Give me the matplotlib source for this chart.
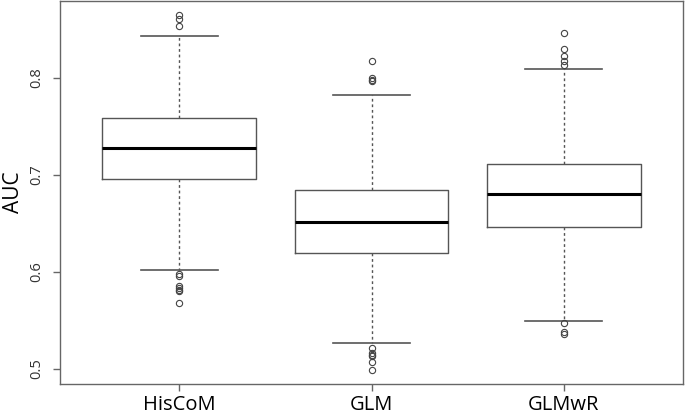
import matplotlib
matplotlib.use("Agg")
import matplotlib.pyplot as plt

methods = ["HisCoM", "GLM", "GLMwR"]
q1 = [0.6956, 0.6192, 0.6463]
median = [0.7271, 0.6512, 0.6800]
q3 = [0.7585, 0.6845, 0.7110]
whisker_low = [0.6020, 0.5263, 0.5497]
whisker_high = [0.8430, 0.7826, 0.8087]
outliers_hiscom = [0.8645, 0.8600, 0.8530, 0.5980, 0.5960, 0.5850, 0.5830, 0.5810, 0.5800, 0.5680]
outliers_glm = [0.8176, 0.8000, 0.7980, 0.7970, 0.5218, 0.5160, 0.5140, 0.5130, 0.5070, 0.4990]
outliers_glmwr = [0.8465, 0.8300, 0.8220, 0.8170, 0.8128, 0.5470, 0.5380, 0.5360]
yticks = [0.5, 0.6, 0.7, 0.8]

plt.rcParams['font.family'] = ['Open Sans', 'DejaVu Sans']

fig = plt.figure(figsize=(6.85, 4.18), dpi=100)
ax = fig.add_axes([60/685, 34/418, 623/685, 383/418])

fliers = [outliers_hiscom, outliers_glm, outliers_glmwr]
stats = []
for i, m in enumerate(methods):
    stats.append(dict(label=m, med=median[i], q1=q1[i], q3=q3[i],
                      whislo=whisker_low[i], whishi=whisker_high[i], fliers=fliers[i]))

line_col = "#555555"
ax.bxp(stats, positions=[1, 2, 3], widths=0.8, showfliers=True,
       boxprops=dict(color=line_col, linewidth=1.0),
       medianprops=dict(color="black", linewidth=2.2),
       whiskerprops=dict(color=line_col, linewidth=1.0, linestyle=(0, (2, 2))),
       capprops=dict(color=line_col, linewidth=1.2),
       capwidths=0.4,
       flierprops=dict(marker="o", markersize=4.5, markerfacecolor="none",
                       markeredgecolor="#444444", markeredgewidth=0.8, linestyle="none"))

ax.set_xlim(0.38, 3.62)
ax.set_ylim(0.4845, 0.879)
ax.set_yticks(yticks)
ax.set_yticklabels([str(t) for t in yticks], rotation=90, va="center", fontsize=10.5, color="#333333")
ax.set_xticks([1, 2, 3])
ax.set_xticklabels(methods, fontsize=14.5, color="black")
ax.tick_params(axis="both", length=5, color="#666666", width=1)
ax.tick_params(axis="x", pad=3)
ax.tick_params(axis="y", pad=6)
for s in ax.spines.values():
    s.set_color("#666666")
    s.set_linewidth(1.0)
ax.set_ylabel("AUC", fontsize=15, labelpad=4)

fig.savefig("out.png", dpi=100)
